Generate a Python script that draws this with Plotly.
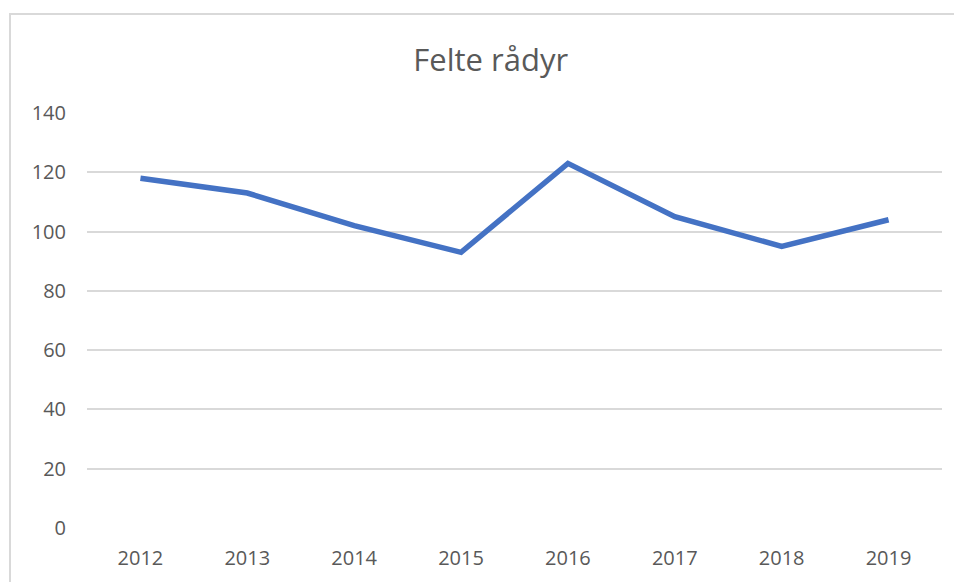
import plotly.graph_objects as go

years = ["2012", "2013", "2014", "2015", "2016", "2017", "2018", "2019"]
felte = [118, 113, 102, 93, 123, 105, 95, 104]
y_ticks = [0, 20, 40, 60, 80, 100, 120, 140]

W, H = 954, 574
L, R, T, B = 79, 20, 105, 54
pw, ph = W - L - R, H - T - B

fig = go.Figure()
fig.add_trace(go.Scatter(
    x=years, y=felte, mode="lines",
    line=dict(color="#4472C4", width=5.5),
    hoverinfo="x+y", showlegend=False,
))

fig.update_layout(
    width=W, height=H,
    margin=dict(l=L, r=R, t=T, b=B),
    paper_bgcolor="white", plot_bgcolor="white",
    title=dict(text="Felte rådyr", x=0.506, xanchor="center", y=0.909, yanchor="middle",
               font=dict(family="Open Sans, Calibri, sans-serif", size=31, color="#595959")),
    font=dict(family="Open Sans, Calibri, sans-serif", size=20, color="#595959"),
    xaxis=dict(type="category", range=[-0.5, 7.5], showgrid=False, zeroline=False,
               showline=False, ticks="", ticklabelstandoff=16,
               tickfont=dict(size=20, color="#595959")),
    yaxis=dict(range=[0, 140], tickvals=y_ticks, showgrid=True, gridcolor="#d9d9d9",
               gridwidth=1.5, zeroline=False, showline=False, ticks="",
               ticklabelstandoff=20, tickfont=dict(size=20, color="#595959")),
    shapes=[dict(type="rect", xref="paper", yref="paper",
                 x0=(2 - L) / pw, x1=1.2, y0=-0.3, y1=(H - B - 6) / ph,
                 line=dict(color="#d9d9d9", width=2), layer="below")],
)

fig.write_html("out.html")
